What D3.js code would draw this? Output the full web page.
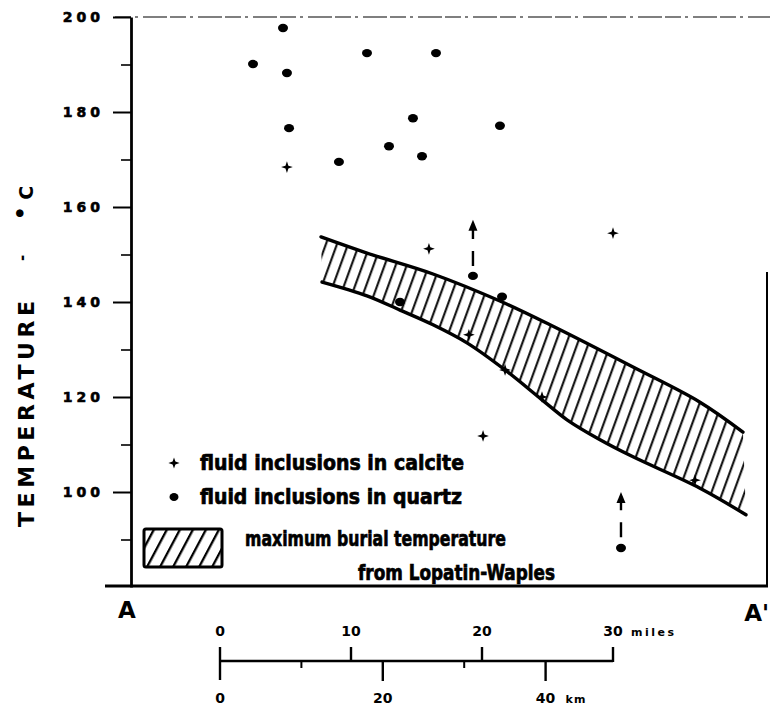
<!DOCTYPE html>
<html>
<head>
<meta charset="utf-8">
<script src="https://cdn.jsdelivr.net/npm/d3@7"></script>
<style>
  html, body { margin: 0; padding: 0; background: #fff; }
  svg { display: block; }
</style>
</head>
<body>
<svg id="chart" width="770" height="706"></svg>
<script>
// ---- data ----
// x = miles along section, measured from the scale-bar zero
// y = temperature, deg C

var quartzPoints = [
  [4.81, 197.7], [2.52, 190.1], [5.11, 188.2], [5.27, 176.6], [9.08, 169.5],
  [11.22, 192.4], [16.49, 192.4], [14.73, 178.7], [21.37, 177.1], [12.90, 172.8],
  [15.42, 170.7], [19.31, 145.5], [21.53, 141.1], [13.74, 140.0], [30.61, 88.2]
];

var calcitePoints = [
  [5.11, 168.4], [15.95, 151.2], [30.0, 154.5], [19.0, 133.1],
  [21.76, 125.7], [24.58, 120.0], [20.08, 111.8], [36.26, 102.5]
];

// minimum values (arrows pointing up)
var arrows = [
  { x: 19.31, from: 147.6, to: 157.3 },
  { x: 30.61, from: 90.5, to: 100.0 }
];

// maximum burial temperature band (Lopatin-Waples)
var bandUpper = [
  [7.71, 153.7], [11.22, 150.3], [16.26, 145.9], [21.37, 140.2], [25.19, 135.2],
  [31.53, 126.3], [36.64, 118.9], [39.92, 112.6]
];
var bandLower = [
  [7.79, 144.2], [11.22, 141.3], [13.74, 138.3], [16.26, 135.2], [18.85, 131.4],
  [21.76, 125.7], [24.58, 119.4], [26.49, 115.2], [29.01, 111.0], [31.53, 107.4],
  [36.64, 100.8], [40.15, 95.2]
];

var tempMajor = [100, 120, 140, 160, 180, 200];
var tempMinor = [90, 110, 130, 150, 170, 190];
var milesTicks = [0, 10, 20, 30];
var kmTicks = [0, 20, 40];
var kmMinor = [10, 30];

var legendItems = ["fluid inclusions in calcite", "fluid inclusions in quartz"];
var legendBand = ["maximum burial temperature", "from Lopatin-Waples"];

// ---- layout ----
var svg = d3.select("#chart"),
  axisX = 131,
  frameRight = 767;

var x = d3.scaleLinear().domain([0, 30]).range([220, 613]);
var y = d3.scaleLinear().domain([80, 200]).range([587, 17]);

var kmToMiles = 0.621371;

var boldFont = "'DejaVu Sans', Verdana, sans-serif";
var legendFont = "'DejaVu Sans Condensed', 'Liberation Sans Narrow', 'Arial Narrow', sans-serif";

// four pointed star for the calcite marks
var star4 = {
  draw: function (context, size) {
    var r = Math.sqrt(size) * 0.7, w = r * 0.25;
    context.moveTo(0, -r);
    context.lineTo(w, -w);
    context.lineTo(r, 0);
    context.lineTo(w, w);
    context.lineTo(0, r);
    context.lineTo(-w, w);
    context.lineTo(-r, 0);
    context.lineTo(-w, -w);
    context.closePath();
  }
};

var defs = svg.append("defs");

defs.append("pattern")
  .attr("id", "hatch")
  .attr("patternUnits", "userSpaceOnUse")
  .attr("width", 10.4).attr("height", 20)
  .attr("patternTransform", "rotate(20)")
  .append("line")
  .attr("x1", 5).attr("y1", 0).attr("x2", 5).attr("y2", 20)
  .attr("stroke", "#000").attr("stroke-width", 2);

defs.append("pattern")
  .attr("id", "hatchLegend")
  .attr("patternUnits", "userSpaceOnUse")
  .attr("width", 11.5).attr("height", 20)
  .attr("patternTransform", "rotate(28)")
  .append("line")
  .attr("x1", 5).attr("y1", 0).attr("x2", 5).attr("y2", 20)
  .attr("stroke", "#000").attr("stroke-width", 2.3);

// ---- frame ----
svg.append("line")
  .attr("x1", 115).attr("x2", 770)
  .attr("y1", y(200)).attr("y2", y(200))
  .attr("stroke", "#555").attr("stroke-width", 1.6)
  .attr("stroke-dasharray", "16,4,3,5,24,3");

svg.append("line")
  .attr("x1", 105).attr("x2", frameRight + 1)
  .attr("y1", y(80) - 1).attr("y2", y(80) - 1)
  .attr("stroke", "#000").attr("stroke-width", 2.8);

svg.append("line")
  .attr("x1", frameRight).attr("x2", frameRight)
  .attr("y1", 272).attr("y2", y(80))
  .attr("stroke", "#000").attr("stroke-width", 2);

// ---- y axis ----
var yAxis = svg.append("g")
  .attr("class", "y-axis")
  .attr("transform", `translate(${axisX},0)`)
  .call(d3.axisLeft(y).tickValues(tempMajor).tickSize(18).tickSizeOuter(0).tickPadding(9));

yAxis.select(".domain").attr("stroke-width", 2.8);
yAxis.selectAll(".tick line").attr("stroke-width", 2);
yAxis.selectAll(".tick text")
  .style("font-family", boldFont)
  .style("font-weight", "bold")
  .style("font-size", "14px")
  .style("letter-spacing", "4px")
  .attr("fill", "#000")
  .attr("stroke", "#000")
  .attr("stroke-width", 0.6);

var yMinor = svg.append("g")
  .attr("transform", `translate(${axisX},0)`)
  .call(d3.axisLeft(y).tickValues(tempMinor).tickSize(10).tickFormat(""));
yMinor.select(".domain").remove();
yMinor.selectAll(".tick line").attr("stroke-width", 1.6);

// axis title
svg.append("text")
  .attr("transform", "translate(34,414) rotate(-90)")
  .attr("text-anchor", "middle")
  .attr("textLength", 226)
  .attr("lengthAdjust", "spacing")
  .style("font-family", boldFont)
  .style("font-weight", "bold")
  .style("font-size", "22px")
  .text("TEMPERATURE");

svg.append("text")
  .attr("transform", "translate(27,258) rotate(-90)")
  .attr("text-anchor", "middle")
  .style("font-family", boldFont)
  .style("font-weight", "bold")
  .style("font-size", "15px")
  .text("-");

var degC = svg.append("text")
  .attr("transform", "translate(33,203) rotate(-90)")
  .attr("text-anchor", "middle")
  .style("font-family", boldFont)
  .style("font-weight", "bold")
  .style("font-size", "19px");
degC.append("tspan").attr("dy", -5).style("font-size", "22px").text("•");
degC.append("tspan").attr("dy", 5).text(" C");

// ---- band ----
var line = d3.line()
  .x(d => x(d[0]))
  .y(d => y(d[1]))
  .curve(d3.curveCatmullRom);

var bandPath = line(bandUpper) + line(bandLower.slice().reverse()).replace(/^M/, "L") + "Z";

svg.append("path")
  .attr("d", bandPath)
  .attr("fill", "url(#hatch)")
  .attr("stroke", "none");

svg.selectAll(".band-edge")
  .data([bandUpper, bandLower])
  .enter().append("path")
  .attr("class", "band-edge")
  .attr("d", line)
  .attr("fill", "none")
  .attr("stroke", "#000")
  .attr("stroke-width", 3.4)
  .attr("stroke-linecap", "round");

// ---- points ----
svg.selectAll(".quartz")
  .data(quartzPoints)
  .enter().append("ellipse")
  .attr("class", "quartz")
  .attr("cx", d => x(d[0]))
  .attr("cy", d => y(d[1]))
  .attr("rx", 5)
  .attr("ry", 4.2)
  .attr("fill", "#000");

svg.selectAll(".calcite")
  .data(calcitePoints)
  .enter().append("path")
  .attr("class", "calcite")
  .attr("transform", d => `translate(${x(d[0])},${y(d[1])})`)
  .attr("d", d3.symbol().type(star4).size(70))
  .attr("fill", "#000");

// arrows: dash, gap, then stem with head
var arrowG = svg.selectAll(".arrow")
  .data(arrows)
  .enter().append("g")
  .attr("class", "arrow");

arrowG.append("line")
  .attr("x1", d => x(d.x)).attr("x2", d => x(d.x))
  .attr("y1", d => y(d.from))
  .attr("y2", d => y(d.to) + 4)
  .attr("stroke", "#000")
  .attr("stroke-width", 2.4)
  .attr("stroke-dasharray", "15,12,40");

arrowG.append("path")
  .attr("transform", d => `translate(${x(d.x)},${y(d.to)})`)
  .attr("d", "M0,0 L4.5,11 L-4.5,11 Z")
  .attr("fill", "#000");

// ---- legend ----
svg.append("path")
  .attr("transform", "translate(174,463)")
  .attr("d", d3.symbol().type(star4).size(64))
  .attr("fill", "#000");

svg.append("ellipse")
  .attr("cx", 174).attr("cy", 497)
  .attr("rx", 4.5).attr("ry", 4)
  .attr("fill", "#000");

svg.selectAll(".legend-text")
  .data(legendItems)
  .enter().append("text")
  .attr("class", "legend-text")
  .attr("x", 200)
  .attr("y", (d, i) => 470 + i * 34)
  .attr("textLength", (d, i) => i == 0 ? 264 : 262)
  .attr("lengthAdjust", "spacingAndGlyphs")
  .style("font-family", legendFont)
  .style("font-weight", "bold")
  .style("font-size", "22px")
  .attr("stroke", "#000")
  .attr("stroke-width", 0.7)
  .text(d => d);

svg.append("rect")
  .attr("x", 144).attr("y", 529)
  .attr("width", 78).attr("height", 38)
  .attr("rx", 2)
  .attr("fill", "url(#hatchLegend)")
  .attr("stroke", "#000")
  .attr("stroke-width", 3);

svg.selectAll(".legend-band")
  .data(legendBand)
  .enter().append("text")
  .attr("class", "legend-band")
  .attr("x", (d, i) => i == 0 ? 245 : 358)
  .attr("y", (d, i) => 546 + i * 34)
  .attr("textLength", (d, i) => i == 0 ? 261 : 197)
  .attr("lengthAdjust", "spacingAndGlyphs")
  .style("font-family", legendFont)
  .style("font-weight", "bold")
  .style("font-size", "22px")
  .attr("stroke", "#000")
  .attr("stroke-width", 0.7)
  .text(d => d);

// ---- section ends ----
svg.append("text")
  .attr("x", 127).attr("y", 618)
  .attr("text-anchor", "middle")
  .style("font-family", boldFont)
  .style("font-weight", "bold")
  .style("font-size", "23px")
  .text("A");

svg.append("text")
  .attr("x", 769).attr("y", 621)
  .attr("text-anchor", "end")
  .style("font-family", boldFont)
  .style("font-weight", "bold")
  .style("font-size", "23px")
  .text("A'");

// ---- scale bar ----
var barY = 661;

svg.append("line")
  .attr("x1", x(0)).attr("x2", x(30))
  .attr("y1", barY).attr("y2", barY)
  .attr("stroke", "#000").attr("stroke-width", 2.4);

svg.selectAll(".mile-tick")
  .data(milesTicks)
  .enter().append("line")
  .attr("class", "mile-tick")
  .attr("x1", d => x(d)).attr("x2", d => x(d))
  .attr("y1", barY - 14)
  .attr("y2", d => d == 0 ? barY + 19 : barY + 1)
  .attr("stroke", "#000").attr("stroke-width", 2.4);

svg.selectAll(".km-tick")
  .data(kmTicks.slice(1))
  .enter().append("line")
  .attr("class", "km-tick")
  .attr("x1", d => x(d * kmToMiles)).attr("x2", d => x(d * kmToMiles))
  .attr("y1", barY).attr("y2", barY + 20)
  .attr("stroke", "#000").attr("stroke-width", 2.4);

svg.selectAll(".km-minor")
  .data(kmMinor)
  .enter().append("line")
  .attr("class", "km-minor")
  .attr("x1", d => x(d * kmToMiles)).attr("x2", d => x(d * kmToMiles))
  .attr("y1", barY).attr("y2", barY + 7)
  .attr("stroke", "#000").attr("stroke-width", 2);

svg.selectAll(".mile-label")
  .data(milesTicks)
  .enter().append("text")
  .attr("class", "mile-label")
  .attr("x", d => x(d))
  .attr("y", 636)
  .attr("text-anchor", "middle")
  .style("font-family", boldFont)
  .style("font-weight", "bold")
  .style("font-size", "14px")
  .text(d => d);

svg.append("text")
  .attr("x", x(30) + 18).attr("y", 636)
  .style("font-family", boldFont)
  .style("font-weight", "bold")
  .style("font-size", "11px")
  .style("letter-spacing", "2.5px")
  .text("miles");

svg.selectAll(".km-label")
  .data(kmTicks)
  .enter().append("text")
  .attr("class", "km-label")
  .attr("x", d => x(d * kmToMiles))
  .attr("y", 703)
  .attr("text-anchor", "middle")
  .style("font-family", boldFont)
  .style("font-weight", "bold")
  .style("font-size", "14px")
  .text(d => d);

svg.append("text")
  .attr("x", x(40 * kmToMiles) + 20).attr("y", 703)
  .style("font-family", boldFont)
  .style("font-weight", "bold")
  .style("font-size", "11px")
  .style("letter-spacing", "1px")
  .text("km");
</script>
</body>
</html>
